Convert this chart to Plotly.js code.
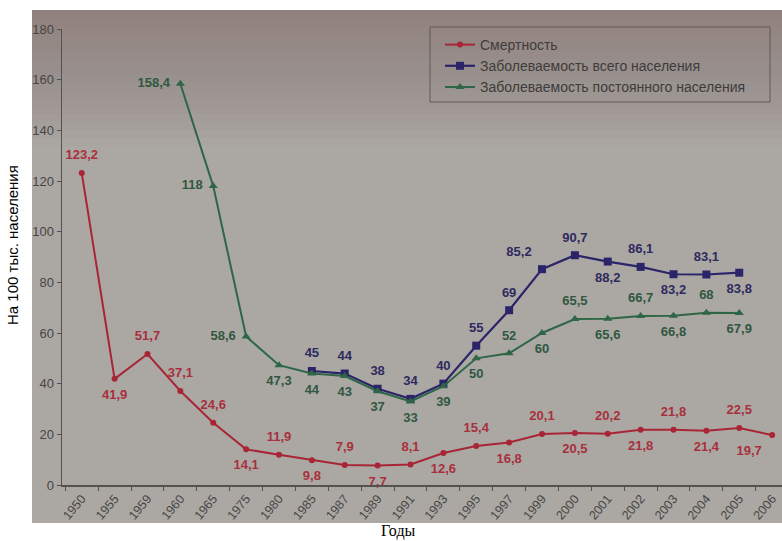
<!DOCTYPE html>
<html>
<head>
<meta charset="utf-8">
<script src="https://cdn.plot.ly/plotly-3.0.1.min.js"></script>
<style>
  html, body { margin: 0; padding: 0; background: #ffffff; }
  #chart { width: 782px; height: 541px; }
</style>
</head>
<body>
<div id="chart"></div>
<script>
// Years on the category axis
const years = ['1950','1955','1959','1960','1965','1975','1980','1985','1987','1989','1991',
               '1993','1995','1997','1999','2000','2001','2002','2003','2004','2005','2006'];

// Смертность
const mortality = [123.2, 41.9, 51.7, 37.1, 24.6, 14.1, 11.9, 9.8, 7.9, 7.7, 8.1,
                   12.6, 15.4, 16.8, 20.1, 20.5, 20.2, 21.8, 21.8, 21.4, 22.5, 19.7];

// Заболеваемость всего населения
const totalIncidence = [null, null, null, null, null, null, null, 45, 44, 38, 34,
                        40, 55, 69, 85.2, 90.7, 88.2, 86.1, 83.2, 83.1, 83.8, null];

// Заболеваемость постоянного населения
const residentIncidence = [null, null, null, 158.4, 118, 58.6, 47.3, 44, 43, 37, 33,
                           39, 50, 52, 60, 65.5, 65.6, 66.7, 66.8, 68, 67.9, null];

const seriesNames = ['Смертность', 'Заболеваемость всего населения', 'Заболеваемость постоянного населения'];

// label placement around each point
const mortalityPos = ['top center','bottom center','top center','top center','top center','bottom center',
  'top center','bottom center','top center','bottom center','top center','bottom center','top center',
  'bottom center','top center','bottom center','top center','bottom center','top center','bottom center',
  'top center','bottom left'];
const totalPos = ['top center','top center','top center','top center','top center','top center','top center',
  'top center','top center','top center','top center','top center','top center','top center','top left',
  'top center','bottom center','top center','bottom center','top center','bottom center','top center'];
const residentPos = ['top center','top center','top center','middle left','middle left','middle left',
  'bottom center','bottom center','bottom center','bottom center','bottom center','bottom center',
  'bottom center','top center','bottom center','top center','bottom center','top center','bottom center',
  'top center','bottom center','top center'];

const fmt = v => (v === null ? '' : String(v).replace('.', ','));

const RED = '#a82535', NAVY = '#2b2468', GREEN = '#2f6647';
const labelFont = (c) => ({ family: 'Liberation Sans, Arial, sans-serif', size: 13, color: c, weight: 'bold' });

function series(name, values, color, symbol, size, width) {
  return {
    x: years, y: values, name: name, type: 'scatter', mode: 'lines+markers',
    line: { color: color, width: width }, marker: { color: color, size: size, symbol: symbol },
    cliponaxis: false, connectgaps: false
  };
}
// value labels sit a little away from the points: an invisible, larger marker sets the gap
function labels(values, pos, color) {
  return {
    x: years, y: values, type: 'scatter', mode: 'markers+text', showlegend: false,
    marker: { size: 15, opacity: 0 }, text: values.map(fmt), textposition: pos,
    textfont: labelFont(color), cliponaxis: false, hoverinfo: 'skip'
  };
}

const traces = [
  series(seriesNames[0], mortality, RED, 'circle', 6, 2),
  series(seriesNames[1], totalIncidence, NAVY, 'square', 8, 2.2),
  series(seriesNames[2], residentIncidence, GREEN, 'triangle-up', 8, 2),
  labels(mortality, mortalityPos, '#a8303c'),
  labels(totalIncidence, totalPos, '#2e2a5e'),
  labels(residentIncidence, residentPos, '#30573f')
];

// page geometry in paper units: plot spans x 62..782 px, y 29..485 px
const L = 62, T = 29, W = 720, H = 456;
const px = (p) => (p - L) / W;
const py = (p) => (T + H - p) / H;

// soft darkening towards the top edge of the sheet
const shade = [];
for (let b = 18; b <= 150; b += 8) {
  shade.push({
    type: 'rect', xref: 'paper', yref: 'paper', layer: 'below',
    x0: px(32), x1: 1.0, y0: py(b), y1: py(10),
    fillcolor: 'rgba(80,74,68,0.018)', line: { width: 0 }
  });
}

const layout = {
  width: 782, height: 541,
  margin: { l: L, r: 0, t: T, b: 541 - T - H },
  paper_bgcolor: '#ffffff',
  plot_bgcolor: 'rgba(0,0,0,0)',
  showlegend: true,
  font: { family: 'Liberation Sans, Arial, sans-serif', color: '#4a4846' },
  xaxis: {
    type: 'category', range: [-0.6, 21.3], fixedrange: true,
    showline: true, linecolor: '#545250', linewidth: 1.5,
    ticks: 'outside', ticklen: 4, tickcolor: '#545250', tickson: 'boundaries',
    tickangle: -50, tickfont: { size: 12.5, color: '#474543' },
    showgrid: false, zeroline: false
  },
  yaxis: {
    range: [0, 180], dtick: 20, fixedrange: true,
    showline: true, linecolor: '#545250', linewidth: 1.5,
    ticks: 'outside', ticklen: 4, tickcolor: '#545250',
    tickfont: { size: 13, color: '#474543' },
    showgrid: false, zeroline: false
  },
  legend: {
    x: px(440), y: py(29), xanchor: 'left', yanchor: 'top',
    bgcolor: 'rgba(0,0,0,0)', borderwidth: 0,
    font: { size: 14, color: '#3e3c3a' }, itemwidth: 30
  },
  shapes: [
    // paper sheet behind the chart
    { type: 'rect', xref: 'paper', yref: 'paper', layer: 'below',
      x0: px(32), x1: 1.0, y0: py(523), y1: py(10),
      fillcolor: '#aba8a4', line: { width: 0 } },
    ...shade,
    // legend frame
    { type: 'rect', xref: 'paper', yref: 'paper', layer: 'above',
      x0: px(430), x1: px(770), y0: py(102), y1: py(27),
      fillcolor: 'rgba(0,0,0,0)', line: { color: '#5e5b58', width: 1 } }
  ],
  annotations: [
    { text: 'Годы', xref: 'paper', yref: 'paper', x: px(398), y: py(531),
      xanchor: 'center', yanchor: 'middle', showarrow: false,
      font: { family: 'Liberation Serif, DejaVu Serif, serif', size: 16, color: '#000000' } },
    { text: 'На 100 тыс. населения', xref: 'paper', yref: 'paper', x: px(12), y: py(245),
      xanchor: 'center', yanchor: 'middle', textangle: -90, showarrow: false,
      font: { family: 'Liberation Sans, Arial, sans-serif', size: 15, color: '#000000' } }
  ]
};

Plotly.newPlot('chart', traces, layout, { displayModeBar: false, staticPlot: true });
</script>
</body>
</html>
